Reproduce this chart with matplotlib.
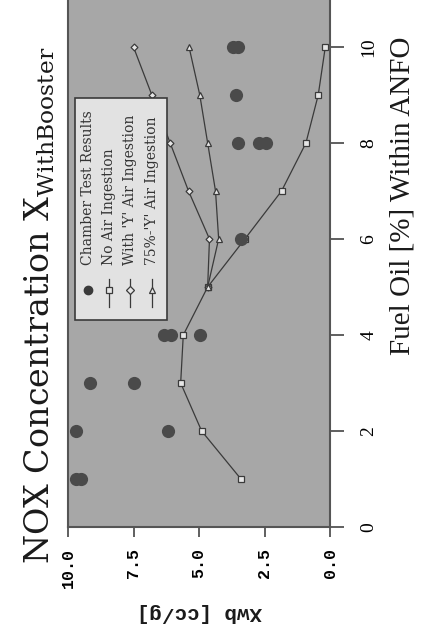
import matplotlib
matplotlib.use('Agg')
import matplotlib.pyplot as plt
from matplotlib.patches import Rectangle
from matplotlib.lines import Line2D

plt.rcParams['mathtext.fontset'] = 'dejavuserif'

# Chamber test results (fuel oil %, Xwb)
chamber_fo = [1, 1, 2, 2, 3, 3, 4, 4, 4, 6, 8, 8, 8, 9, 10, 10]
chamber_x = [9.7, 9.5, 9.7, 6.2, 9.15, 7.5, 6.35, 6.05, 4.95, 3.4, 3.5, 2.7, 2.45, 3.6, 3.72, 3.5]

# Model curves
no_air_fo = [1, 2, 3, 4, 5, 6, 7, 8, 9, 10]
no_air_x = [3.4, 4.9, 5.7, 5.6, 4.67, 3.25, 1.85, 0.92, 0.45, 0.18]
with_y_fo = [5, 6, 7, 8, 9, 10]
with_y_x = [4.67, 4.6, 5.4, 6.1, 6.8, 7.5]
y75_fo = [5, 6, 7, 8, 9, 10]
y75_x = [4.67, 4.25, 4.37, 4.67, 4.97, 5.38]

xwb_ticks = [10.0, 7.5, 5.0, 2.5, 0.0]
fo_ticks = [0, 2, 4, 6, 8, 10]

legend_labels = ['Chamber Test Results', 'No Air Ingestion',
                 "With 'Y' Air Ingestion", "75%-'Y' Air Ingestion"]

fig = plt.figure(figsize=(4.25, 6.38), dpi=100)
ax = fig.add_axes([0.16, 0.174, 0.6165, 0.826])
ax.set_facecolor('#a7a7a7')

line_kw = dict(color='#3a3a3a', lw=0.9, mfc='#e6e6e6', mec='#3a3a3a', mew=0.9)
ax.plot(no_air_x, no_air_fo, marker='s', ms=5, **line_kw)
ax.plot(with_y_x, with_y_fo, marker='D', ms=3.5, **line_kw)
ax.plot(y75_x, y75_fo, marker='^', ms=4.5, **line_kw)
ax.plot(chamber_x, chamber_fo, 'o', color='#4a4a4a', ms=9.5, mec='none')

ax.set_xlim(10, 0)
ax.set_ylim(0, 10.98)

ax.set_xticks(xwb_ticks)
ax.set_xticklabels(['%.1f' % v for v in xwb_ticks], rotation=90,
                   family='Liberation Mono', weight='bold', fontsize=12)
ax.yaxis.tick_right()
ax.set_yticks(fo_ticks)
ax.set_yticklabels([str(v) for v in fo_ticks], rotation=90, va='center',
                   family='Liberation Serif', fontsize=14)
ax.tick_params(axis='x', direction='out', length=7, width=1.2, pad=8, color='#444444')
ax.tick_params(axis='y', direction='out', length=10, width=1.2, pad=12, color='#444444')
for s in ['left', 'right', 'bottom']:
    ax.spines[s].set_color('#555555')
    ax.spines[s].set_linewidth(1.5)
ax.spines['top'].set_visible(False)

# legend drawn by hand, rotated like the rest of the page
ax.add_patch(Rectangle((0.027, 0.393), 0.351, 0.421, transform=ax.transAxes,
                       facecolor='#e2e2e2', edgecolor='#3a3a3a', lw=1.2, zorder=5))
leg_x = [0.076, 0.156, 0.237, 0.321]
leg_markers = ['o', 's', 'D', '^']
for i, (lx, m, lab) in enumerate(zip(leg_x, leg_markers, legend_labels)):
    if i == 0:
        ax.add_line(Line2D([lx], [0.45], marker='o', ms=6, color='#3a3a3a',
                           transform=ax.transAxes, zorder=6))
    else:
        ax.add_line(Line2D([lx, lx, lx], [0.417, 0.45, 0.47], marker=m,
                           markevery=[1], ms=4, transform=ax.transAxes, zorder=6,
                           **line_kw))
    ax.text(lx, 0.497, lab, rotation=90, ha='center', va='bottom',
            transform=ax.transAxes, family='DejaVu Serif', fontsize=10,
            color='#333333', zorder=6)

fig.text(0.094, 0.522, r'NOX Concentration X$_{\mathrm{WithBooster}}$', rotation=90,
         ha='center', va='center', family='DejaVu Serif', fontsize=24, color='#1a1a1a')
fig.text(0.948, 0.693, 'Fuel Oil [%] Within ANFO', rotation=90, ha='center',
         va='center', family='Liberation Serif', fontsize=21, color='#1a1a1a')
fig.text(0.47, 0.04, 'Xwb [cc/g]', rotation=180, ha='center', va='center',
         family='Liberation Mono', weight='bold', fontsize=15, color='#1a1a1a')

fig.savefig('out.png', dpi=100)
